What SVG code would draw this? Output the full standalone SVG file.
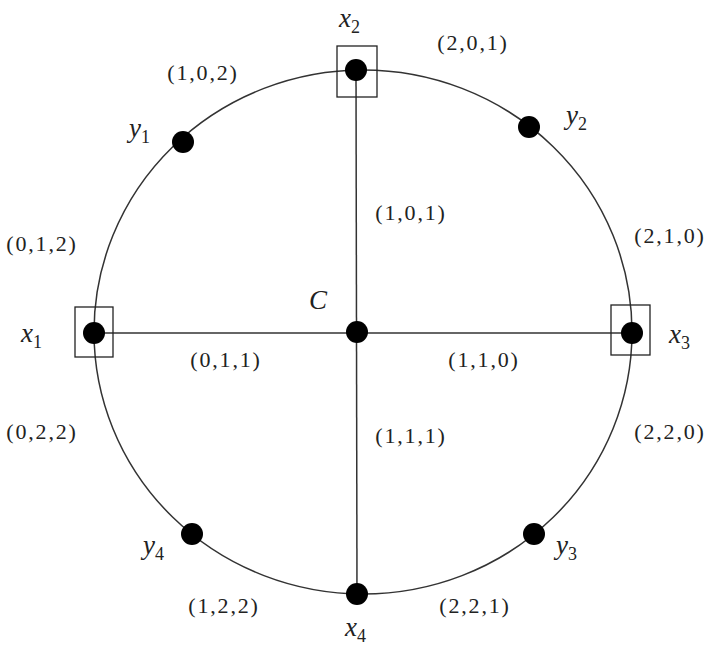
<svg xmlns="http://www.w3.org/2000/svg" width="710" height="666" viewBox="0 0 710 666">
<style>
.ln{stroke:#333;stroke-width:1.5;fill:none}
.dot{fill:#000}
.box{fill:none;stroke:#222;stroke-width:1.3}
.v{font-family:"Liberation Serif",serif;font-style:italic;font-size:27px;fill:#222}
.s{font-size:18px;font-style:normal}
.t{font-family:"Liberation Serif",serif;font-size:22px;letter-spacing:1.8px;fill:#222;text-anchor:middle}
</style>
<rect width="710" height="666" fill="#fff"/>
<g id="connectors">
<ellipse class="ln" cx="363" cy="332" rx="269" ry="262"/>
<line class="ln" x1="356" y1="70" x2="357" y2="594"/>
<line class="ln" x1="94" y1="333" x2="632" y2="333"/>
</g>
<g id="x2"><rect class="box" x="337" y="46" width="40" height="51"/><circle class="dot" cx="356" cy="70" r="11"/><text class="v" x="339" y="27">x<tspan class="s" dy="6">2</tspan></text></g>
<g id="x1"><rect class="box" x="75" y="307" width="38" height="50"/><circle class="dot" cx="94" cy="333" r="11"/><text class="v" x="21" y="342">x<tspan class="s" dy="6">1</tspan></text></g>
<g id="x3"><rect class="box" x="611" y="305" width="39" height="50"/><circle class="dot" cx="632" cy="333" r="11"/><text class="v" x="669" y="343">x<tspan class="s" dy="6">3</tspan></text></g>
<g id="x4"><circle class="dot" cx="357" cy="594" r="11"/><text class="v" x="345" y="636">x<tspan class="s" dy="6">4</tspan></text></g>
<g id="C"><circle class="dot" cx="357" cy="332" r="11"/><text class="v" x="309" y="309">C</text></g>
<g id="y1"><circle class="dot" cx="183" cy="142" r="11"/><text class="v" x="129" y="137">y<tspan class="s" dy="6">1</tspan></text></g>
<g id="y2"><circle class="dot" cx="529" cy="127" r="11"/><text class="v" x="566" y="124">y<tspan class="s" dy="6">2</tspan></text></g>
<g id="y3"><circle class="dot" cx="534" cy="534" r="11"/><text class="v" x="556" y="554">y<tspan class="s" dy="6">3</tspan></text></g>
<g id="y4"><circle class="dot" cx="192" cy="534" r="11"/><text class="v" x="143" y="554">y<tspan class="s" dy="6">4</tspan></text></g>
<g id="labels">
<text class="t" x="203" y="80">(1,0,2)</text>
<text class="t" x="473" y="50">(2,0,1)</text>
<text class="t" x="411" y="220">(1,0,1)</text>
<text class="t" x="42" y="251">(0,1,2)</text>
<text class="t" x="670" y="243">(2,1,0)</text>
<text class="t" x="226" y="367">(0,1,1)</text>
<text class="t" x="484" y="367">(1,1,0)</text>
<text class="t" x="42" y="439">(0,2,2)</text>
<text class="t" x="411" y="443">(1,1,1)</text>
<text class="t" x="670" y="439">(2,2,0)</text>
<text class="t" x="224" y="613">(1,2,2)</text>
<text class="t" x="475" y="613">(2,2,1)</text>
</g>
</svg>
